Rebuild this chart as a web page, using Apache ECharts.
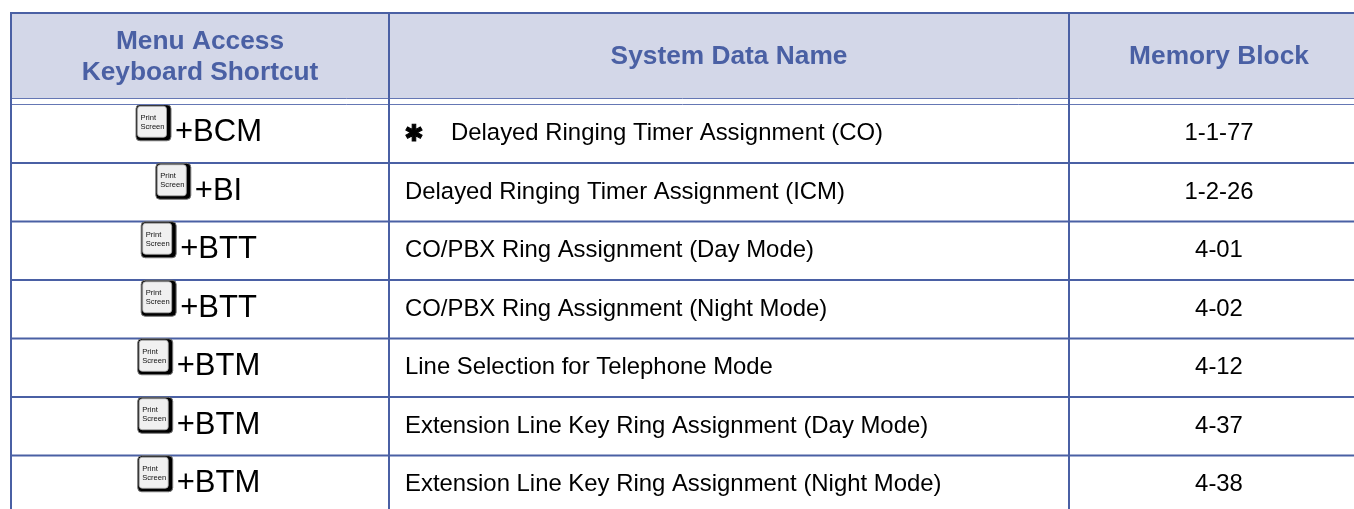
<!DOCTYPE html>
<html><head><meta charset="utf-8">
<style>html,body{margin:0;padding:0;background:#fff}#c{width:1354px;height:509px}</style>
<script src="https://cdn.jsdelivr.net/npm/echarts@6/dist/echarts.min.js"></script>
</head><body><div id="c"></div>
<script>
const headerMenu = ['Menu Access', 'Keyboard Shortcut'];
const headerName = 'System Data Name';
const headerBlock = 'Memory Block';
const keyLabel = ['Print', 'Screen'];
const shortcuts = ['+BCM', '+BI', '+BTT', '+BTT', '+BTM', '+BTM', '+BTM'];
const starred = [true, false, false, false, false, false, false];
const names = [
  'Delayed Ringing Timer Assignment (CO)',
  'Delayed Ringing Timer Assignment (ICM)',
  'CO/PBX Ring Assignment (Day Mode)',
  'CO/PBX Ring Assignment (Night Mode)',
  'Line Selection for Telephone Mode',
  'Extension Line Key Ring Assignment (Day Mode)',
  'Extension Line Key Ring Assignment (Night Mode)'
];
const blocks = ['1-1-77', '1-2-26', '4-01', '4-02', '4-12', '4-37', '4-38'];

const BLUE = '#4a60a4', LIGHT = '#6577b4', HEAD = '#d3d7e8';
const FONT = '"Liberation Sans", Arial, sans-serif';
const L = 11, C1 = 389, C2 = 1069, R = 1354, BLOCKX = 1219, TOP = 13, H1 = 98.5, H2 = 104.5, ROW = 58.5;
const chart = echarts.init(document.getElementById('c'), null, {renderer: 'canvas'});

function line(x1, y1, x2, y2, stroke, w) {
  return {type: 'line', silent: true, shape: {x1, y1, x2, y2}, style: {stroke, lineWidth: w}};
}
function txt(x, y, text, font, fill, align) {
  return {type: 'text', silent: true, x, y, style: {text, font, fill, align: align || 'center', verticalAlign: 'middle'}};
}
const bold = 'bold 26.3px ' + FONT;
const KEYFONT = '7.6px ' + FONT, SHORTFONT = '31px ' + FONT, BODYFONT = '23.9px ' + FONT;
const measure = document.createElement('canvas').getContext('2d');

function renderRow(params, api) {
  const i = api.value(0);
  const top = api.coord([0, i])[1], bottom = api.coord([0, i + 1])[1];
  const mid = (top + bottom) / 2;
  const kids = [];
  const label = shortcuts[i];
  measure.font = SHORTFONT;
  const total = 39 + measure.measureText(label).width;
  const kx = (L + C1) / 2 - total / 2 - 1, ky = mid - 29;
  kids.push({type: 'rect', silent: true, shape: {x: kx, y: ky, width: 35, height: 36, r: 4},
    style: {fill: '#000', stroke: '#777', lineWidth: 1}});
  kids.push({type: 'rect', silent: true, shape: {x: kx + 1.5, y: ky + 1.5, width: 29, height: 31, r: 3},
    style: {fill: '#f0f0f0', stroke: '#aaa', lineWidth: 0.8}});
  kids.push(txt(kx + 4.5, ky + 13, keyLabel[0], KEYFONT, '#111', 'left'));
  kids.push(txt(kx + 4.5, ky + 22, keyLabel[1], KEYFONT, '#111', 'left'));
  kids.push(txt(kx + 39, mid - 1, label, SHORTFONT, '#000', 'left'));
  if (starred[i]) {
    const star = txt(414, mid + 1, '\u2731', '23px "DejaVu Sans"', '#000');
    star.style.stroke = '#000';
    star.style.lineWidth = 1;
    kids.push(star);
  }
  kids.push(txt(starred[i] ? 451 : 405, mid, names[i], BODYFONT, '#000', 'left'));
  kids.push(txt(BLOCKX, mid, blocks[i], BODYFONT, '#000'));
  if (i < shortcuts.length - 1) kids.push(line(L, bottom, R, bottom, BLUE, 2));
  return {type: 'group', children: kids};
}

chart.setOption({
  animation: false,
  backgroundColor: '#fff',
  grid: {left: 0, right: 0, top: H2, bottom: 0},
  xAxis: {type: 'value', min: 0, max: R, show: false},
  yAxis: {type: 'value', min: 0, max: (509 - H2) / ROW, inverse: true, show: false},
  series: [{type: 'custom', silent: true, clip: false, coordinateSystem: 'cartesian2d',
    data: shortcuts.map((s, i) => [i]), encode: {x: -1, y: 0}, renderItem: renderRow, z: 5}],
  graphic: {elements: [
    {type: 'rect', silent: true, z: 1, shape: {x: L, y: TOP, width: R - L, height: H1 - TOP}, style: {fill: HEAD}},
    line(L, TOP, R, TOP, BLUE, 2),
    line(L, H1, R, H1, LIGHT, 1),
    line(L, H2, R, H2, LIGHT, 1),
    line(L, TOP - 1, L, 509, BLUE, 2),
    line(C1, TOP, C1, 509, BLUE, 2),
    line(C2, TOP, C2, 509, BLUE, 2),
    txt((L + C1) / 2, 42, headerMenu[0], bold, BLUE),
    txt((L + C1) / 2, 73, headerMenu[1], bold, BLUE),
    txt((C1 + C2) / 2, 57, headerName, bold, BLUE),
    txt(BLOCKX, 57, headerBlock, bold, BLUE)
  ].map(e => Object.assign({z: 10}, e))}
});
</script></body></html>
